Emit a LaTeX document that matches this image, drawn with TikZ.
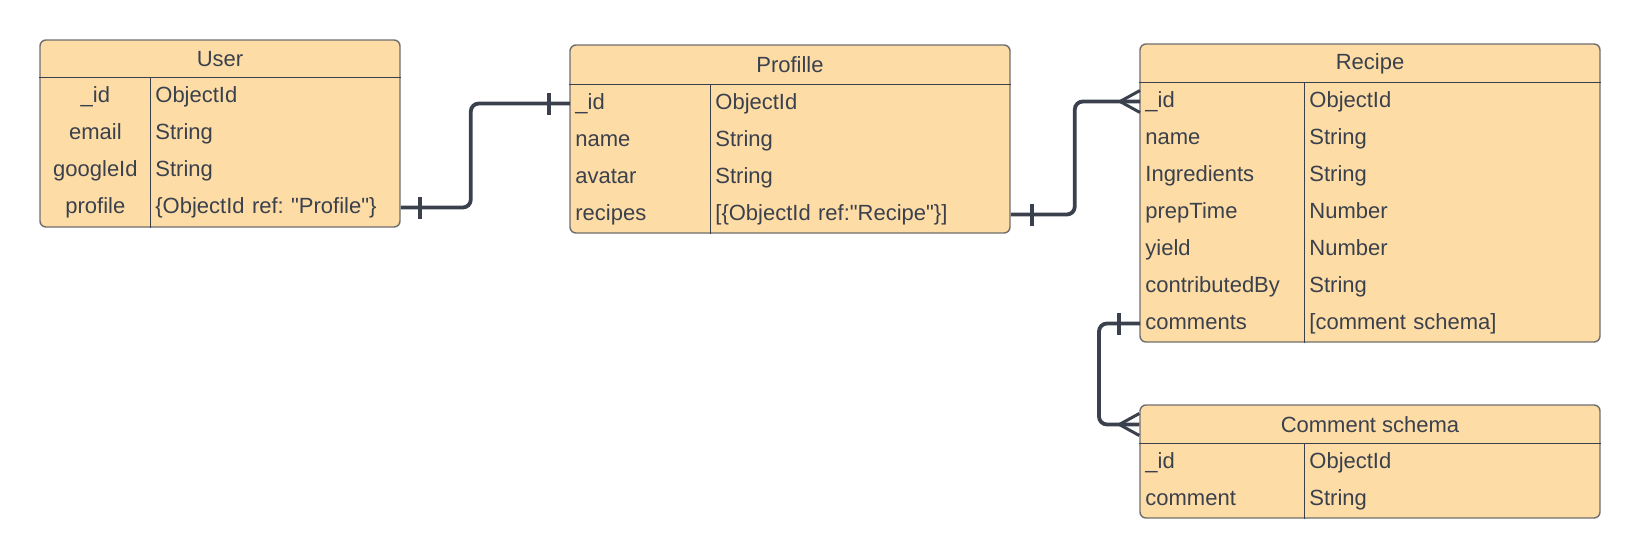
\documentclass[tikz,border=0pt]{standalone}
\usepackage{fontspec}
\setmainfont{Liberation Sans}
\frenchspacing
\usetikzlibrary{calc,positioning}
\definecolor{tabfill}{HTML}{FEDCA6}
\definecolor{slate}{HTML}{3A414C}
\definecolor{framegray}{HTML}{6E6E6E}
\tikzset{
  tabframe/.style={draw=framegray,fill=tabfill,line width=0.7pt,
                   rounded corners=3pt,inner sep=0pt},
  tabhead/.style={font=\fontsize{11}{13}\selectfont,text=slate,inner sep=0pt},
  cell/.style={anchor=west,inner xsep=2.5pt,inner ysep=0pt,
               minimum height=18.5pt,text height=8pt,text depth=2.5pt,
               align=left,font=\fontsize{11}{13}\selectfont,text=slate},
  gridline/.style={draw=slate,line width=0.6pt},
  relline/.style={draw=slate,line width=1.9pt,rounded corners=4pt},
  onebar/.style={draw=slate,line width=1.9pt},
  crowfoot/.style={draw=slate,line width=1.5pt}
}

\begin{document}
\begin{tikzpicture}[x=0.5pt,y=-0.5pt]
    \path[use as bounding box] (0,0) rectangle (1640,558);

    % User
    \node[tabframe,minimum width=180pt,minimum height=93.5pt] (user) at (220,133.5) {};
    \node[tabhead] (user-h) at (220,59) {User};
    \foreach \fname/\ftype [count=\i] in {\_id/ObjectId,email/String,googleId/String,
        profile/{\{ObjectId ref: \textquotedbl Profile\textquotedbl\}}} {
      \node[cell,text width=50pt,align=center] (user-k\i) at (40,{59.5+37*\i}) {\fname};
      \node[cell,text width=120pt] (user-t\i) at (150,{59.5+37*\i}) {\ftype};
    }
    \draw[gridline] (user.west |- user-k1.north) -- (user.east |- user-k1.north);
    \draw[gridline] (user-k1.north east) -- (user-k1.north east |- user.south);

    % Profile
    \node[tabframe,minimum width=220pt,minimum height=94pt] (prof) at (790,139) {};
    \node[tabhead] (prof-h) at (790,65) {Profille};
    \foreach \fname/\ftype [count=\i] in {\_id/ObjectId,name/String,avatar/String,
        recipes/{[\{ObjectId ref:\textquotedbl Recipe\textquotedbl\}]}} {
      \node[cell,text width=65pt] (prof-k\i) at (570,{66.5+37*\i}) {\fname};
      \node[cell,text width=145pt] (prof-t\i) at (710,{66.5+37*\i}) {\ftype};
    }
    \draw[gridline] (prof.west |- prof-k1.north) -- (prof.east |- prof-k1.north);
    \draw[gridline] (prof-k1.north east) -- (prof-k1.north east |- prof.south);

    % Recipe
    \node[tabframe,minimum width=230pt,minimum height=149pt] (rec) at (1370,193) {};
    \node[tabhead] (rec-h) at (1370,63.5) {Recipe};
    \foreach \fname/\ftype [count=\i] in {\_id/ObjectId,name/String,Ingredients/String,
        prepTime/Number,yield/Number,contributedBy/String,comments/{[comment schema]}} {
      \node[cell,text width=77pt] (rec-k\i) at (1140,{64.5+37*\i}) {\fname};
      \node[cell,text width=143pt] (rec-t\i) at (1304,{64.5+37*\i}) {\ftype};
    }
    \draw[gridline] (rec.west |- rec-k1.north) -- (rec.east |- rec-k1.north);
    \draw[gridline] (rec-k1.north east) -- (rec-k1.north east |- rec.south);

    % Comment schema
    \node[tabframe,minimum width=230pt,minimum height=56.5pt] (cmt) at (1370,461.5) {};
    \node[tabhead] (cmt-h) at (1370,424.5) {Comment schema};
    \foreach \fname/\ftype [count=\i] in {\_id/ObjectId,comment/String} {
      \node[cell,text width=77pt] (cmt-k\i) at (1140,{425.5+37*\i}) {\fname};
      \node[cell,text width=143pt] (cmt-t\i) at (1304,{425.5+37*\i}) {\ftype};
    }
    \draw[gridline] (cmt.west |- cmt-k1.north) -- (cmt.east |- cmt-k1.north);
    \draw[gridline] (cmt-k1.north east) -- (cmt-k1.north east |- cmt.south);

    % user -- profile (one to one)
    \draw[relline] (user-t4.east) -- ++(70,0) |- (prof-k1.west);
    \draw[onebar] (user-t4.east) ++(19,-11) -- ++(0,22);
    \draw[onebar] (prof-k1.west) ++(-21,-11) -- ++(0,22);

    % profile -- recipe (one to many)
    \draw[relline] (prof-t4.east) -- ++(64,0) |- (rec-k1.west);
    \draw[onebar] (prof-t4.east) ++(21,-11) -- ++(0,22);
    \draw[crowfoot] (rec-k1.west) ++(-20,0) -- ++(20,-11) ++(-20,11) -- ++(20,11);

    % recipe -- comment schema (one to many)
    \draw[relline] (rec-k7.west) -- ++(-41,0) |- (cmt-h -| cmt.west);
    \draw[onebar] (rec-k7.west) ++(-21,-11) -- ++(0,22);
    \draw[crowfoot] (cmt-h -| cmt.west) ++(-20,0) -- ++(20,-11) ++(-20,11) -- ++(20,11);
\end{tikzpicture}
\end{document}
